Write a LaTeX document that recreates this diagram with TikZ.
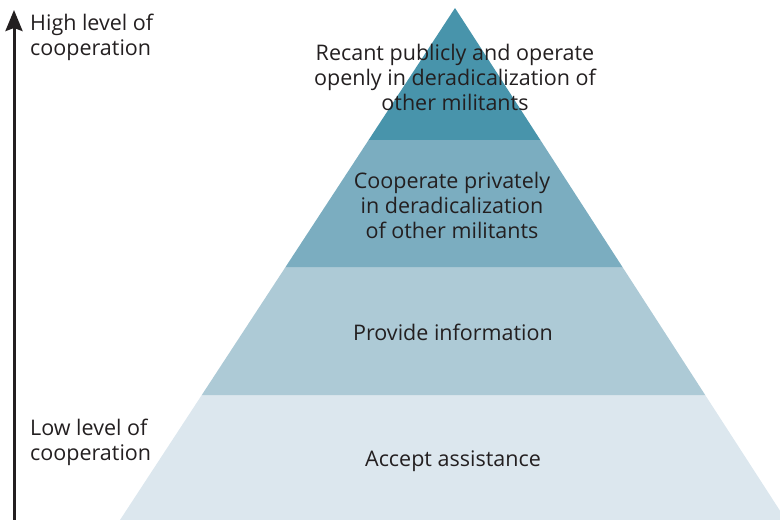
\documentclass[tikz,border=0pt]{standalone}
\usepackage{fontspec}
\setmainfont{Open Sans}
\usetikzlibrary{calc,arrows.meta}
\definecolor{layerA}{HTML}{4894AB}
\definecolor{layerB}{HTML}{7BADC0}
\definecolor{layerC}{HTML}{ADCAD6}
\definecolor{layerD}{HTML}{DCE7EE}
\definecolor{txt}{HTML}{231F20}
\tikzset{
  lbl/.style={inner sep=0pt, text=txt, font=\fontsize{21.5}{25}\selectfont, align=center, anchor=base},
  side/.style={inner sep=0pt, text=txt, font=\fontsize{21.5}{25}\selectfont, align=left, anchor=base west},
}
\begin{document}
\begin{tikzpicture}[x=1pt,y=-1pt]
\useasboundingbox (0,0) rectangle (780,520);
\begin{scope}
\clip (0,0) rectangle (780,520);
\coordinate (apex) at (455,8);
\coordinate (bl) at (120,520);
\coordinate (br) at (786,520);
\coordinate (l1) at ($(apex)!0.2578!(bl)$);
\coordinate (r1) at ($(apex)!0.2578!(br)$);
\coordinate (l2) at ($(apex)!0.5059!(bl)$);
\coordinate (r2) at ($(apex)!0.5059!(br)$);
\coordinate (l3) at ($(apex)!0.7559!(bl)$);
\coordinate (r3) at ($(apex)!0.7559!(br)$);
\fill[layerD] (l3) -- (r3) -- (br) -- (bl) -- cycle;
\fill[layerC] (l2) -- (r2) -- (r3) -- (l3) -- cycle;
\fill[layerB] (l1) -- (r1) -- (r2) -- (l2) -- cycle;
\fill[layerA] (apex) -- (r1) -- (l1) -- cycle;
\end{scope}
\node[lbl] (t1) at (455,110) {Recant publicly and operate\\openly in deradicalization of\\other militants};
\node[lbl] (t2) at (452,238) {Cooperate privately\\in deradicalization\\of other militants};
\node[lbl] (t3) at (453,340) {Provide information};
\node[lbl] (t4) at (453,466) {Accept assistance};
\node[side] (hi) at (30,55) {High level of\\cooperation};
\node[side] (lo) at (30,460) {Low level of\\cooperation};
\coordinate (abot) at (14,520);
\coordinate (atop) at (14,10);
\draw[line width=3pt, draw=txt, -{Stealth[length=21pt,width=17pt,inset=3pt]}] (abot) -- (atop);
\end{tikzpicture}
\end{document}
